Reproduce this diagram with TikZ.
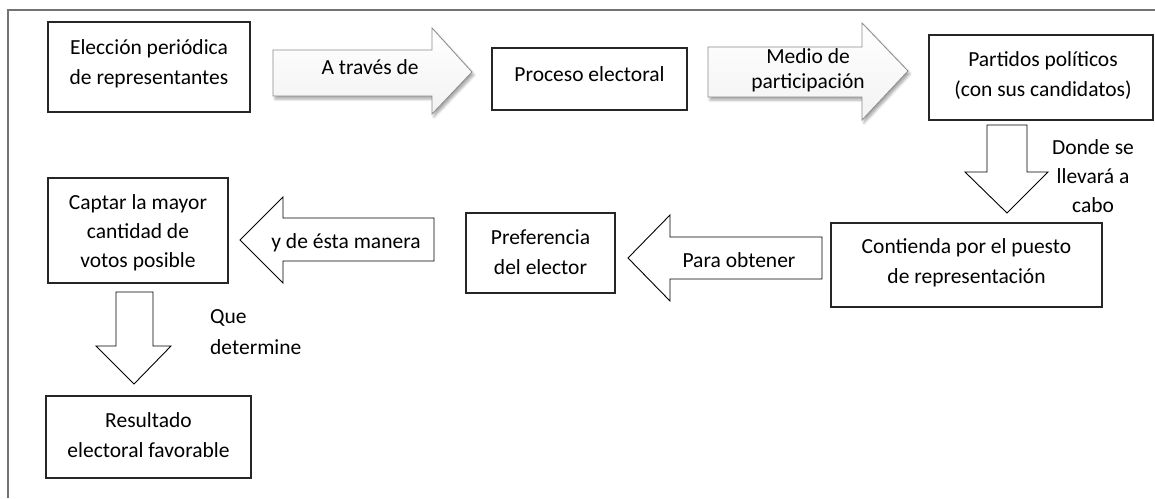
\documentclass[tikz,border=0pt]{standalone}
\usepackage{fontspec}
\setmainfont{Carlito}
\usetikzlibrary{shadows.blur}
\begin{document}
\begin{tikzpicture}[x=1pt,y=-1pt,
  box/.style={draw=black!85,line width=1.2pt,rectangle,inner sep=0pt},
  txt/.style={align=center,font=\fontsize{21.5}{30}\selectfont,inner sep=0pt},
  ltxt/.style={align=left,font=\fontsize{21.5}{30}\selectfont,inner sep=0pt},
  shadedarrow/.style={draw=black!45,line width=0.8pt,top color=white,bottom color=black!5,
     blur shadow={shadow xshift=2pt,shadow yshift=-3pt,shadow blur radius=2.5pt,shadow opacity=35}},
  plainarrow/.style={draw=black,line width=0.9pt,fill=white,line join=miter},
  frame/.style={draw=black!55,line width=1.4pt}]
\useasboundingbox (0,0) rectangle (1155,498);
% outer frame
\coordinate (fb) at (8,498);
\coordinate (ftl) at (8,10);
\coordinate (ftr) at (1155,10);
\draw[frame] (fb) -- (ftl) -- (ftr);

% boxes
\node[box,minimum width=202pt,minimum height=90pt] (b1) at (149,67) {};
\node[txt] (t1) at (149,64) {Elección periódica\\de representantes};
\node[box,minimum width=195pt,minimum height=62pt] (b2) at (589.5,79) {};
\node[txt] (t2) at (589.5,74) {Proceso electoral};
\node[box,minimum width=224pt,minimum height=85pt] (b3) at (1041,77.5) {};
\node[txt] (t3) at (1043,75.5) {Partidos políticos\\(con sus candidatos)};
\node[box,minimum width=271pt,minimum height=84pt] (b4) at (966.5,265) {};
\node[txt] (t4) at (966.5,262.5) {Contienda por el puesto\\de representación};
\node[box,minimum width=149pt,minimum height=80pt] (b5) at (540.5,253) {};
\node[txt] (t5) at (540.5,252.5) {Preferencia\\del elector};
\node[box,minimum width=180pt,minimum height=105pt] (b6) at (138,230.5) {};
\node[txt,font=\fontsize{21.5}{29}\selectfont] (t6) at (138,233) {Captar la mayor\\cantidad de\\votos posible};
\node[box,minimum width=205pt,minimum height=82pt] (b7) at (148.5,437) {};
\node[txt] (t7) at (148.5,435) {Resultado\\electoral favorable};

% arrow 1 (right, shaded)
\path[shadedarrow] (273,50) -- (432,50) -- (432,28) -- (472,72) -- (432,114) -- (432,96) -- (273,96) -- cycle;
\node[txt] (a1) at (370,67) {A través de};
% arrow 2 (right, shaded)
\path[shadedarrow] (708,47) -- (862,47) -- (862,23) -- (908,71) -- (862,120) -- (862,97) -- (708,97) -- cycle;
\node[txt,font=\fontsize{21.5}{25}\selectfont] (a2) at (808,70) {Medio de\\participación};
% arrow 3 (down)
\draw[plainarrow] (987,125) -- (1027,125) -- (1027,172) -- (1048,172) -- (1007,213) -- (965,172) -- (987,172) -- cycle;
\node[txt,font=\fontsize{21.5}{29}\selectfont] (a3) at (1093,176) {Donde se\\llevará a\\cabo};
% arrow 4 (left)
\draw[plainarrow] (822,237) -- (670,237) -- (670,215) -- (628,258) -- (670,301) -- (670,279) -- (822,279) -- cycle;
\node[txt] (a4) at (739,260) {Para obtener};
% arrow 5 (left)
\draw[plainarrow] (434,218) -- (283,218) -- (283,197) -- (240,240) -- (283,283) -- (283,261) -- (434,261) -- cycle;
\node[txt] (a5) at (346,243) {y de ésta manera};
% arrow 6 (down)
\draw[plainarrow] (116,292) -- (153,292) -- (153,346) -- (171,346) -- (134,384) -- (96,346) -- (116,346) -- cycle;
\node[ltxt,font=\fontsize{21.5}{31}\selectfont,anchor=west] (a6) at (210,332) {Que\\determine};
\end{tikzpicture}
\end{document}
